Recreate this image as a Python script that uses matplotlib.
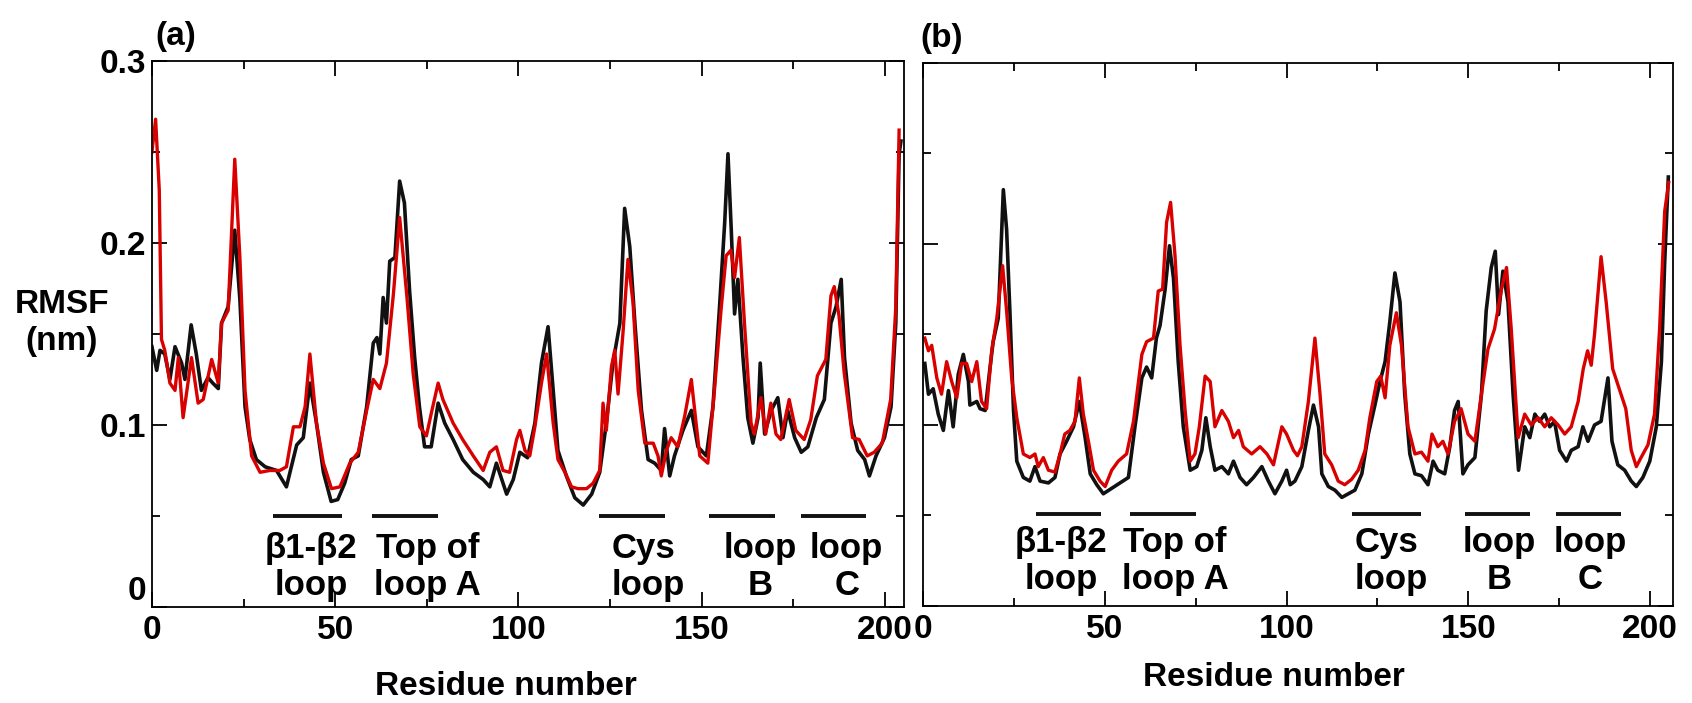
import matplotlib
matplotlib.use("Agg")
import matplotlib.pyplot as plt

# 字体设置
plt.rcParams['font.family'] = ['Liberation Sans', 'DejaVu Sans']
plt.rcParams['font.weight'] = 'bold'

# ---------------- 数据 (a) ----------------
a_black_res = [0, 1.3, 2.2, 3.5, 4.9, 6.3, 8.1, 9.0, 10.7, 12.1, 13.5, 15.3, 16.6, 18.1, 19.0, 20.8,
               22.6, 24.0, 25.4, 26.7, 28.5, 30.9, 34.0, 36.7, 39.5, 41.3, 43.1, 44.9, 46.8, 48.9,
               50.7, 52.6, 54.4, 56.3, 58.6, 60.4, 61.4, 62.2, 63.1, 64.0, 64.9, 66.3, 67.6, 68.9,
               70.3, 71.7, 73.0, 74.4, 76.2, 78.1, 79.9, 82.2, 84.8, 87.7, 90.4, 92.2, 94.0, 96.8,
               98.6, 100.4, 102.5, 104.5, 106.3, 108.1, 109.5, 110.8, 113.1, 115.4, 117.7, 120.0,
               122.2, 124.0, 125.8, 127.7, 129.0, 130.4, 131.8, 133.6, 135.4, 137.2, 139.0, 139.9,
               141.3, 142.6, 144.9, 147.2, 149.0, 151.3, 153.1, 154.9, 156.3, 157.2, 158.1, 159.0,
               159.9, 161.3, 162.6, 164.0, 165.4, 166.0, 167.2, 169.0, 170.8, 172.2, 173.5, 175.4,
               177.2, 179.0, 181.3, 183.5, 185.3, 186.7, 188.1, 189.0, 190.8, 192.6, 194.5, 195.8,
               197.6, 199.9, 201.7, 203.0, 203.9, 204.4]
a_black_rmsf = [0.143, 0.130, 0.141, 0.139, 0.125, 0.143, 0.134, 0.125, 0.155, 0.139, 0.119, 0.126,
                0.123, 0.120, 0.156, 0.165, 0.207, 0.169, 0.110, 0.092, 0.081, 0.077, 0.075, 0.066,
                0.089, 0.093, 0.123, 0.101, 0.074, 0.058, 0.059, 0.068, 0.081, 0.083, 0.110, 0.145,
                0.148, 0.139, 0.170, 0.156, 0.190, 0.192, 0.234, 0.222, 0.174, 0.137, 0.110, 0.088,
                0.088, 0.112, 0.101, 0.092, 0.081, 0.074, 0.070, 0.066, 0.079, 0.062, 0.070, 0.085,
                0.082, 0.101, 0.134, 0.154, 0.119, 0.086, 0.072, 0.060, 0.056, 0.062, 0.074, 0.101,
                0.134, 0.156, 0.219, 0.198, 0.156, 0.108, 0.081, 0.079, 0.075, 0.098, 0.072, 0.083,
                0.097, 0.108, 0.088, 0.083, 0.110, 0.165, 0.211, 0.249, 0.207, 0.161, 0.180, 0.137,
                0.104, 0.090, 0.104, 0.134, 0.095, 0.108, 0.115, 0.093, 0.108, 0.093, 0.085, 0.088,
                0.104, 0.114, 0.156, 0.165, 0.180, 0.137, 0.101, 0.086, 0.081, 0.072, 0.083, 0.093,
                0.110, 0.156, 0.249, 0.256]

a_red_res = [0, 1.0, 2.0, 2.6, 3.5, 4.9, 6.3, 7.2, 8.5, 10.8, 12.6, 14.0, 16.3, 18.1, 19.0, 20.8,
             22.6, 24.0, 25.4, 27.2, 29.5, 32.2, 34.9, 36.7, 38.6, 40.4, 41.8, 43.1, 44.9, 46.8,
             49.0, 51.3, 54.0, 56.3, 58.6, 60.4, 62.2, 64.0, 65.9, 67.6, 69.6, 71.3, 73.1, 74.9,
             76.3, 78.1, 79.4, 82.2, 84.8, 87.7, 90.4, 92.2, 94.0, 95.8, 97.6, 99.5, 100.4, 101.8,
             103.1, 104.5, 106.3, 107.7, 109.5, 110.8, 112.7, 114.5, 116.3, 118.6, 120.4, 122.2,
             123.1, 124.0, 125.4, 126.3, 127.2, 128.6, 129.9, 131.3, 132.7, 134.5, 136.8, 138.1,
             139.0, 140.4, 141.7, 143.5, 145.4, 147.2, 148.5, 149.5, 151.7, 153.5, 155.3, 156.7,
             158.0, 159.0, 160.3, 161.7, 163.5, 164.4, 166.2, 167.5, 168.9, 170.3, 171.6, 173.9,
             175.7, 178.0, 179.8, 181.6, 183.9, 185.3, 186.2, 187.5, 188.9, 191.2, 193.0, 195.2,
             197.1, 199.3, 201.6, 203.0, 203.9]
a_red_rmsf = [0.250, 0.268, 0.229, 0.147, 0.141, 0.123, 0.119, 0.137, 0.104, 0.137, 0.112, 0.114,
              0.136, 0.123, 0.156, 0.163, 0.246, 0.192, 0.119, 0.083, 0.074, 0.075, 0.075, 0.077,
              0.099, 0.099, 0.110, 0.139, 0.101, 0.079, 0.065, 0.066, 0.079, 0.085, 0.108, 0.125,
              0.120, 0.134, 0.172, 0.214, 0.170, 0.128, 0.099, 0.094, 0.107, 0.123, 0.114, 0.101,
              0.092, 0.083, 0.075, 0.085, 0.088, 0.075, 0.074, 0.092, 0.097, 0.086, 0.083, 0.099,
              0.123, 0.139, 0.101, 0.081, 0.074, 0.066, 0.065, 0.065, 0.068, 0.075, 0.112, 0.097,
              0.132, 0.141, 0.117, 0.152, 0.191, 0.167, 0.119, 0.090, 0.090, 0.083, 0.072, 0.086,
              0.093, 0.088, 0.105, 0.125, 0.101, 0.083, 0.079, 0.119, 0.163, 0.193, 0.196, 0.181,
              0.203, 0.156, 0.101, 0.095, 0.115, 0.095, 0.112, 0.095, 0.092, 0.114, 0.097, 0.092,
              0.103, 0.127, 0.136, 0.171, 0.176, 0.160, 0.129, 0.093, 0.092, 0.083, 0.085, 0.090,
              0.114, 0.165, 0.262]

# ---------------- 数据 (b) ----------------
b_black_res = [0.5, 1.5, 2.8, 4.2, 5.6, 7.0, 8.3, 9.7, 11.1, 12.5, 12.9, 14.8, 15.7, 17.1, 18.4,
               19.3, 20.7, 22.1, 23.0, 23.9, 24.9, 25.8, 27.6, 29.4, 30.8, 32.2, 34.5, 36.3, 37.7,
               39.5, 41.4, 43.0, 44.6, 46.0, 47.8, 49.6, 51.9, 54.2, 56.5, 58.3, 60.2, 61.5, 62.9,
               64.2, 65.2, 66.6, 67.8, 68.9, 70.2, 71.6, 73.5, 75.3, 76.7, 77.8, 79.0, 80.3, 82.2,
               84.0, 85.4, 87.2, 89.0, 90.9, 93.2, 95.0, 96.8, 98.7, 100.0, 101.0, 102.3, 104.2,
               106.0, 107.4, 108.8, 109.7, 111.5, 113.3, 115.2, 117.0, 118.8, 120.7, 122.5, 124.3,
               125.7, 127.1, 128.4, 129.8, 131.2, 132.5, 133.9, 135.3, 137.1, 138.9, 140.3, 141.6,
               143.5, 144.9, 146.2, 147.2, 148.5, 149.9, 151.8, 153.6, 154.9, 156.3, 157.4, 158.3,
               159.5, 160.9, 162.3, 163.8, 165.5, 166.9, 168.3, 169.6, 171.0, 172.4, 173.7, 175.1,
               177.0, 178.3, 180.2, 181.5, 182.9, 184.7, 186.5, 188.4, 189.5, 191.1, 193.0, 194.8,
               196.2, 198.0, 199.9, 201.7, 203.1, 204.0, 205.0]
b_black_rmsf = [0.134, 0.117, 0.120, 0.106, 0.097, 0.119, 0.099, 0.128, 0.139, 0.124, 0.111, 0.113,
                0.109, 0.108, 0.131, 0.146, 0.159, 0.230, 0.208, 0.163, 0.108, 0.080, 0.071, 0.069,
                0.077, 0.069, 0.068, 0.071, 0.084, 0.091, 0.099, 0.113, 0.093, 0.073, 0.067, 0.062,
                0.065, 0.068, 0.071, 0.099, 0.126, 0.132, 0.126, 0.148, 0.155, 0.175, 0.199, 0.181,
                0.135, 0.099, 0.075, 0.077, 0.086, 0.104, 0.088, 0.075, 0.077, 0.073, 0.080, 0.071,
                0.067, 0.071, 0.077, 0.069, 0.062, 0.069, 0.075, 0.067, 0.069, 0.077, 0.097, 0.111,
                0.099, 0.073, 0.066, 0.064, 0.060, 0.062, 0.064, 0.073, 0.095, 0.111, 0.124, 0.135,
                0.157, 0.184, 0.168, 0.117, 0.084, 0.073, 0.072, 0.067, 0.080, 0.075, 0.073, 0.088,
                0.108, 0.113, 0.073, 0.078, 0.082, 0.117, 0.163, 0.187, 0.196, 0.161, 0.185, 0.168,
                0.117, 0.075, 0.099, 0.093, 0.106, 0.102, 0.106, 0.099, 0.102, 0.086, 0.080, 0.086,
                0.088, 0.099, 0.091, 0.100, 0.102, 0.126, 0.091, 0.078, 0.075, 0.069, 0.066, 0.071,
                0.080, 0.099, 0.135, 0.190, 0.237]

b_red_res = [0.5, 1.5, 2.4, 3.8, 5.1, 6.5, 7.9, 9.3, 10.6, 12.0, 13.4, 14.8, 16.1, 17.5, 18.9,
             20.3, 21.9, 23.0, 24.4, 25.8, 27.6, 29.4, 30.8, 31.7, 33.1, 34.5, 36.3, 37.7, 39.0,
             40.4, 41.8, 43.0, 44.1, 45.5, 46.9, 48.7, 50.1, 51.9, 53.7, 56.0, 57.9, 60.2, 61.5,
             63.4, 64.7, 65.9, 67.0, 68.1, 69.3, 70.7, 72.1, 73.5, 74.8, 76.0, 77.6, 79.0, 80.3,
             82.2, 84.0, 85.4, 86.8, 88.1, 90.4, 92.7, 94.6, 96.4, 98.7, 100.0, 101.9, 103.0,
             104.2, 106.0, 107.8, 109.2, 110.5, 112.4, 114.2, 116.0, 117.9, 119.7, 121.6, 122.9,
             124.8, 125.9, 127.1, 128.4, 130.2, 131.6, 133.4, 135.3, 137.1, 138.9, 140.0, 141.6,
             143.0, 144.4, 146.2, 148.0, 149.9, 151.8, 153.6, 155.4, 157.2, 159.1, 160.5, 161.8,
             163.7, 165.5, 167.3, 169.2, 171.0, 172.8, 174.7, 176.5, 178.3, 180.2, 181.6, 182.8,
             183.8, 184.7, 186.5, 187.9, 189.7, 191.5, 193.3, 194.8, 196.2, 197.5, 199.4, 201.2,
             202.6, 204.0, 205.1]
b_red_rmsf = [0.148, 0.141, 0.144, 0.126, 0.117, 0.135, 0.124, 0.115, 0.134, 0.134, 0.124, 0.135,
              0.113, 0.109, 0.141, 0.159, 0.188, 0.163, 0.126, 0.104, 0.084, 0.082, 0.084, 0.077,
              0.082, 0.075, 0.074, 0.084, 0.095, 0.097, 0.102, 0.126, 0.106, 0.091, 0.075, 0.069,
              0.066, 0.075, 0.080, 0.084, 0.102, 0.139, 0.146, 0.148, 0.174, 0.175, 0.212, 0.223,
              0.194, 0.144, 0.108, 0.080, 0.084, 0.099, 0.127, 0.124, 0.099, 0.108, 0.102, 0.093,
              0.097, 0.088, 0.084, 0.088, 0.084, 0.078, 0.099, 0.095, 0.086, 0.083, 0.088, 0.113,
              0.148, 0.117, 0.084, 0.078, 0.069, 0.067, 0.070, 0.075, 0.086, 0.104, 0.124, 0.127,
              0.115, 0.144, 0.162, 0.144, 0.099, 0.084, 0.085, 0.080, 0.095, 0.088, 0.091, 0.084,
              0.102, 0.109, 0.095, 0.091, 0.117, 0.142, 0.153, 0.175, 0.187, 0.153, 0.093, 0.106,
              0.100, 0.104, 0.099, 0.104, 0.100, 0.095, 0.099, 0.113, 0.131, 0.141, 0.133, 0.150,
              0.193, 0.168, 0.131, 0.120, 0.109, 0.086, 0.077, 0.082, 0.089, 0.106, 0.153, 0.218,
              0.234]

# 区域标注: 名称, 起止残基
a_regions = [("\u03b21-\u03b22\nloop", 33, 52), ("Top of\nloop A", 60, 78), ("Cys\nloop", 122, 140),
             ("loop\nB", 152, 170), ("loop\nC", 177, 195)]
b_regions = [("\u03b21-\u03b22\nloop", 31, 49), ("Top of\nloop A", 57, 75), ("Cys\nloop", 118, 137),
             ("loop\nB", 149, 167), ("loop\nC", 174, 192)]
# 文字中心位置 (残基)
a_text_x = [43.4, 75.2, 125.5, 166, 189.6]
b_text_x = [38, 69.3, 118.8, 158.5, 183.5]

RED = '#d90000'
BLACK = '#111111'

fig = plt.figure(figsize=(16.92, 7.03), dpi=100)
ax1 = fig.add_axes([0.0898, 0.1366, 0.4444, 0.7767])
ax2 = fig.add_axes([0.5455, 0.1380, 0.4433, 0.7724])


def style_axis(ax, xmax, show_ylabels):
    ax.set_xlim(0, xmax)
    ax.set_ylim(0, 0.3)
    ax.set_xticks([0, 50, 100, 150, 200])
    ax.set_xticks([25, 75, 125, 175], minor=True)
    ax.set_yticks([0, 0.1, 0.2, 0.3])
    ax.set_yticks([0.05, 0.15, 0.25], minor=True)
    if show_ylabels:
        ax.set_yticklabels(['0', '0.1', '0.2', '0.3'])
    else:
        ax.set_yticklabels([])
    ax.tick_params(which='both', direction='in', top=True, right=True, width=1.3, labelsize=24)
    ax.tick_params(which='major', length=11)
    ax.tick_params(which='minor', length=6)
    ax.tick_params(axis='x', pad=6)
    ax.tick_params(axis='y', pad=4)
    for s in ax.spines.values():
        s.set_linewidth(1.3)


# 画曲线
ax1.plot(a_black_res, a_black_rmsf, color=BLACK, lw=2.6)
ax1.plot(a_red_res, a_red_rmsf, color=RED, lw=2.4)
ax2.plot(b_black_res, b_black_rmsf, color=BLACK, lw=2.6)
ax2.plot(b_red_res, b_red_rmsf, color=RED, lw=2.4)

style_axis(ax1, 205.2, True)
style_axis(ax2, 206.3, False)

# 原图中 "0" 标签略高于坐标原点
ax1.yaxis.get_major_ticks()[0].label1.set_verticalalignment('bottom')

# 区域横线和文字
for ax, regions, text_x, bar_y, text_y in [(ax1, a_regions, a_text_x, 0.05, 0.022),
                                           (ax2, b_regions, b_text_x, 0.051, 0.025)]:
    for (name, r0, r1), tx in zip(regions, text_x):
        ax.plot([r0, r1], [bar_y, bar_y], color=BLACK, lw=2.8, solid_capstyle='butt')
        if name.startswith('Cys'):
            ax.text(tx, text_y, name, ha='left', va='center', fontsize=25,
                    fontweight='bold', linespacing=1.15, multialignment='left')
        else:
            ax.text(tx, text_y, name, ha='center', va='center', fontsize=25,
                    fontweight='bold', linespacing=1.15, multialignment='center')

# 坐标轴标签
ax1.set_xlabel('Residue number', fontsize=24, fontweight='bold')
ax1.xaxis.set_label_coords(0.471, -0.118)
ax2.set_xlabel('Residue number', fontsize=24, fontweight='bold')
ax2.xaxis.set_label_coords(0.468, -0.104)
ax1.set_ylabel('RMSF\n(nm)', fontsize=24, fontweight='bold', rotation=0,
               ha='center', va='center', linespacing=1.25)
ax1.yaxis.set_label_coords(-0.12, 0.52)

# 面板编号
ax1.text(0.004, 1.044, '(a)', transform=ax1.transAxes, fontsize=24, fontweight='bold',
         ha='left', va='center')
ax2.text(-0.004, 1.046, '(b)', transform=ax2.transAxes, fontsize=24, fontweight='bold',
         ha='left', va='center')

fig.savefig('out.png', dpi=100, facecolor='white')
